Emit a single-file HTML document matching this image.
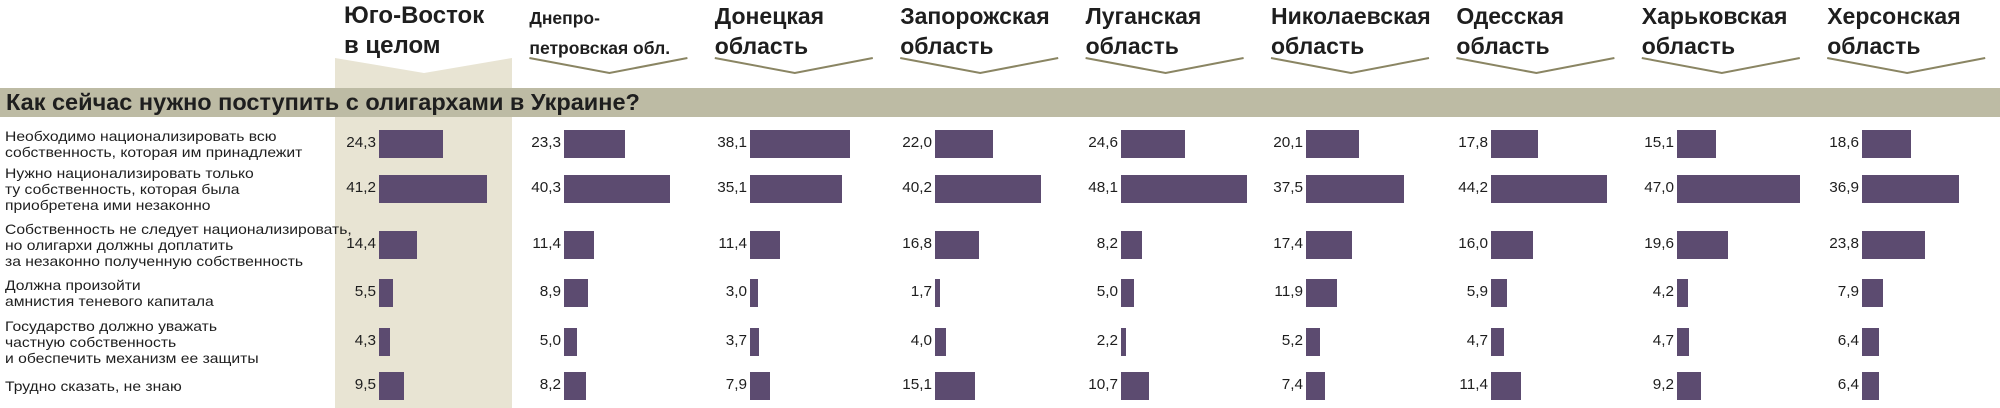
<!DOCTYPE html>
<html><head><meta charset="utf-8">
<style>
html,body{margin:0;padding:0;background:#fff;}
#page{position:relative;width:2000px;height:408px;overflow:hidden;font-family:"Liberation Sans","DejaVu Sans",sans-serif;color:#1e1e1e;}
.abs{position:absolute;}
.hdr{font-weight:bold;font-size:23px;line-height:30px;white-space:nowrap;transform-origin:0 0;}
.lbl{font-size:14px;line-height:16px;white-space:nowrap;transform:scaleX(1.12);transform-origin:0 50%;}
.val{font-size:15px;text-align:right;width:50px;line-height:28px;transform:scaleX(1.02);transform-origin:100% 50%;}
.bar{background:#5c4b70;height:28px;}
</style></head>
<body>
<div id="page">
<svg class="abs" style="left:0;top:0" width="2000" height="408">
  <polygon points="335,58 424,73 512,58 512,408 335,408" fill="#e8e4d3"/>
  <rect x="0" y="88" width="2000" height="29" fill="#bdbba4"/>
  <g id="chev"></g>
</svg>
<div class="abs" style="left:6px;top:88px;font-weight:bold;font-size:23.5px;line-height:29px;white-space:nowrap">Как сейчас нужно поступить с олигархами в Украине?</div>
</div>
<script>
const regions = [["Юго-Восток","в целом"],["Днепро-","петровская обл."],["Донецкая","область"],["Запорожская","область"],["Луганская","область"],["Николаевская","область"],["Одесская","область"],["Харьковская","область"],["Херсонская","область"]];
const questions = [
 ["Необходимо национализировать всю","собственность, которая им принадлежит"],
 ["Нужно национализировать только","ту собственность, которая была","приобретена ими незаконно"],
 ["Собственность не следует национализировать,","но олигархи должны доплатить","за незаконно полученную собственность"],
 ["Должна произойти","амнистия теневого капитала"],
 ["Государство должно уважать","частную собственность","и обеспечить механизм ее защиты"],
 ["Трудно сказать, не знаю"]
];
const valsSE = [24.3,41.2,14.4,5.5,4.3,9.5];
const valsDnepr = [23.3,40.3,11.4,8.9,5.0,8.2];
const valsDonetsk = [38.1,35.1,11.4,3.0,3.7,7.9];
const valsZapor = [22.0,40.2,16.8,1.7,4.0,15.1];
const valsLugansk = [24.6,48.1,8.2,5.0,2.2,10.7];
const valsNikol = [20.1,37.5,17.4,11.9,5.2,7.4];
const valsOdessa = [17.8,44.2,16.0,5.9,4.7,11.4];
const valsKharkov = [15.1,47.0,19.6,4.2,4.7,9.2];
const valsKherson = [18.6,36.9,23.8,7.9,6.4,6.4];
const series = [valsSE,valsDnepr,valsDonetsk,valsZapor,valsLugansk,valsNikol,valsOdessa,valsKharkov,valsKherson];

const page = document.getElementById('page');
const colX = i => 379 + i*185.4;
const rowY = j => [144,189,245,293,342,386][j];
const xLen = v => v*2.62;
const fmt = v => v.toFixed(1).replace('.',',');
const chev = document.getElementById('chev');

regions.forEach((r,i)=>{
  const bx = colX(i);
  const h = document.createElement('div');
  h.className='abs hdr';
  h.style.left=(bx-35)+'px';
  h.style.top='1px';
  if(i===0){h.style.fontSize='24px';}
  if(i===1){h.style.fontSize='17.5px';h.style.top='3px';h.style.lineHeight='30px';}
  h.innerHTML=r[0]+'<br>'+r[1];
  
  
  page.appendChild(h);
  if(i>0){
    const p=document.createElementNS('http://www.w3.org/2000/svg','polyline');
    p.setAttribute('points',(bx-35)+',58 '+(bx+45)+',73 '+(bx+123)+',58');
    p.setAttribute('fill','none');p.setAttribute('stroke','#8a8563');p.setAttribute('stroke-width','2');
    
    
    chev.appendChild(p);
  }
  series[i].forEach((v,j)=>{
    const y=rowY(j);
    const b=document.createElement('div');
    b.className='abs bar';
    b.style.left=bx+'px';b.style.top=(y-14)+'px';b.style.width=xLen(v)+'px';
    
    
    page.appendChild(b);
    const t=document.createElement('div');
    t.className='abs val';
    t.style.left=(bx-53)+'px';t.style.top=(y-15)+'px';
    t.textContent=fmt(v);
    
    
    page.appendChild(t);
  });
});
questions.forEach((q,j)=>{
  const d=document.createElement('div');
  d.className='abs lbl';
  d.style.left='5px';
  d.style.top=(rowY(j)-q.length*16/2)+'px';
  d.innerHTML=q.join('<br>');
  
  
  page.appendChild(d);
});
</script>
</body></html>
